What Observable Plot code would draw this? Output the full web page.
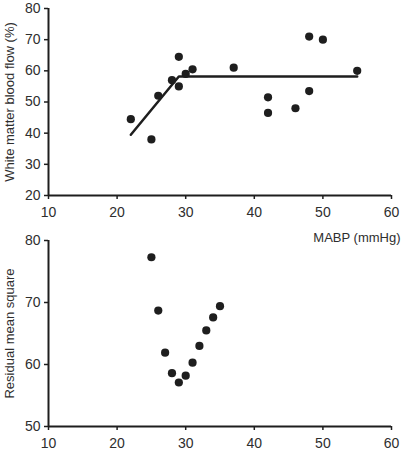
<!DOCTYPE html>
<html>
<head>
<meta charset="utf-8">
<script src="https://cdn.jsdelivr.net/npm/d3@7"></script>
<script src="https://cdn.jsdelivr.net/npm/@observablehq/plot@0.6"></script>
<style>
  body { margin: 0; background: white; }
  #wrap { width: 402px; height: 453px; position: relative; }
  #bottomPanel { margin-top: -20px; }
  svg { display: block; }
</style>
</head>
<body>
<div id="wrap"><div id="topPanel"></div><div id="bottomPanel"></div></div>
<script>
// Top panel: white matter blood flow vs MABP
const flowMABP = [22, 25, 26, 28, 29, 29, 30, 31, 37, 42, 42, 46, 48, 48, 50, 55];
const flowValue = [44.5, 38, 52, 57, 64.5, 55, 59, 60.5, 61, 51.5, 46.5, 48, 53.5, 71, 70, 60];
// Broken-stick fit line
const fitMABP = [22, 29, 55];
const fitValue = [39.5, 58.2, 58.2];
// Bottom panel: residual mean square vs breakpoint
const rmsMABP = [25, 26, 27, 28, 29, 30, 31, 32, 33, 34, 35];
const rmsValue = [77.3, 68.7, 61.9, 58.6, 57.1, 58.2, 60.3, 63.0, 65.5, 67.6, 69.4];

const xTicks = [10, 20, 30, 40, 50, 60];
const yTicksTop = [20, 30, 40, 50, 60, 70, 80];
const yTicksBottom = [50, 60, 70, 80];
const xLabel = "MABP (mmHg)";
const yLabelTop = "White matter blood flow (%)";
const yLabelBottom = "Residual mean square";

const ink = "#1e1e1e";
const textInk = "#2e2e2e";
const font = "'Liberation Sans', Arial, sans-serif";

const flow = flowMABP.map((x, i) => ({x, y: flowValue[i]}));
const fit = fitMABP.map((x, i) => ({x, y: fitValue[i]}));
const rms = rmsMABP.map((x, i) => ({x, y: rmsValue[i]}));

function axes(yTicks, yLabel) {
  return [
    Plot.axisX({ticks: xTicks, tickSize: 4, tickPadding: 8, tickFormat: d => d, label: null, stroke: ink, strokeWidth: 1.5, fill: textInk, fontSize: 14}),
    Plot.axisY({ticks: yTicks, tickSize: 4, tickPadding: 4, tickFormat: d => d, label: null, stroke: ink, strokeWidth: 1.5, fill: textInk, fontSize: 14}),
    Plot.axisY({ticks: [], tickSize: 0, label: yLabel, labelAnchor: "center", labelArrow: "none", labelOffset: 44, fill: textInk, fontSize: 13}),
    Plot.ruleY([yTicks[0]], {stroke: ink, strokeWidth: 2}),
    Plot.ruleX([xTicks[0]], {stroke: ink, strokeWidth: 2})
  ];
}

const topChart = Plot.plot({
  width: 402, height: 246,
  marginTop: 8, marginBottom: 51, marginLeft: 48, marginRight: 11,
  style: {fontFamily: font, fontSize: "13px", color: textInk, background: "transparent", overflow: "visible"},
  x: {domain: [10, 60]},
  y: {domain: [20, 80]},
  marks: [
    ...axes(yTicksTop, yLabelTop),
    Plot.line(fit, {x: "x", y: "y", stroke: ink, strokeWidth: 2.5}),
    Plot.dot(flow, {x: "x", y: "y", r: 4.1, fill: ink, stroke: "none"}),
    Plot.text([xLabel], {frameAnchor: "bottom-right", dx: 9, dy: 46, textAnchor: "end", lineAnchor: "bottom", fill: textInk, fontSize: 13})
  ]
});
document.getElementById("topPanel").append(topChart);

const bottomChart = Plot.plot({
  width: 402, height: 227,
  marginTop: 14, marginBottom: 27, marginLeft: 48, marginRight: 11,
  style: {fontFamily: font, fontSize: "13px", color: textInk, background: "transparent", overflow: "visible"},
  x: {domain: [10, 60]},
  y: {domain: [50, 80]},
  marks: [
    ...axes(yTicksBottom, yLabelBottom),
    Plot.dot(rms, {x: "x", y: "y", r: 4.1, fill: ink, stroke: "none"})
  ]
});
document.getElementById("bottomPanel").append(bottomChart);
</script>
</body>
</html>
